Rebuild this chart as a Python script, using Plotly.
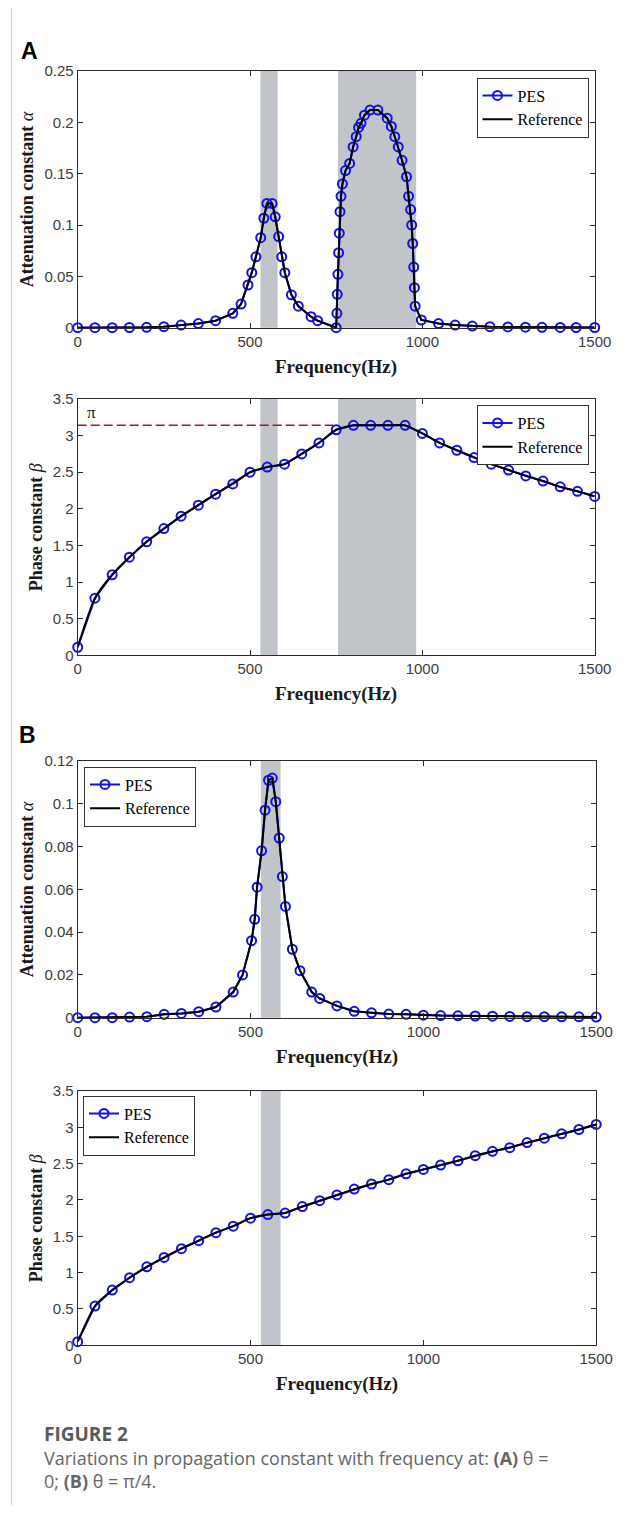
import math
import plotly.graph_objects as go

# ---------------- data ----------------
# Panel A (theta = 0): attenuation constant alpha
freq_A_alpha = [0, 50, 100, 150, 200, 250, 300, 350, 400, 450, 474, 494, 505, 517, 531, 540, 549,
                564, 573, 583, 592, 601, 620, 640, 677, 696, 750,
                752, 753, 755, 757, 759, 761, 764, 768, 777, 789, 799, 808, 815, 822, 832, 848, 871,
                898, 910, 920, 930, 941, 954, 960, 966, 969, 972, 975, 977, 979, 997,
                1047, 1095, 1145, 1196, 1248, 1299, 1347, 1400, 1446, 1500]
alpha_A = [0.0, 0.0, 0.0, 0.0002, 0.0004, 0.001, 0.0026, 0.004, 0.0068, 0.014, 0.023, 0.0416, 0.0536,
           0.069, 0.0877, 0.1066, 0.121,
           0.121, 0.108, 0.0887, 0.069, 0.0536, 0.032, 0.021, 0.0107, 0.0068, 0.0,
           0.014, 0.0325, 0.052, 0.073, 0.092, 0.113, 0.128, 0.14, 0.153, 0.16, 0.176, 0.186, 0.195,
           0.199, 0.207, 0.212, 0.212,
           0.204, 0.196, 0.186, 0.176, 0.163, 0.147, 0.128, 0.115, 0.1, 0.082, 0.059, 0.039, 0.021,
           0.0075, 0.004, 0.0026, 0.0016, 0.001, 0.0007, 0.0005, 0.0004, 0.0003, 0.0002, 0.0002]

# Panel A (theta = 0): phase constant beta
freq_A_beta = [0, 50, 100, 150, 200, 250, 300, 350, 400, 450, 500, 550, 600, 650, 700, 750, 800, 850,
               900, 950, 1000, 1050, 1100, 1150, 1200, 1250, 1300, 1350, 1400, 1450, 1500]
beta_A = [0.11, 0.78, 1.10, 1.34, 1.55, 1.73, 1.90, 2.05, 2.20, 2.34, 2.50, 2.57, 2.61, 2.75, 2.90,
          3.08, 3.14, 3.14, 3.14, 3.14, 3.03, 2.90, 2.80, 2.70, 2.61, 2.53, 2.45, 2.38, 2.30, 2.24, 2.17]

# Panel B (theta = pi/4): attenuation constant alpha
freq_B_alpha = [0, 50, 100, 150, 200, 250, 300, 350, 400, 450, 477, 503, 512, 519, 532, 542, 552, 563,
                573, 583, 592, 601, 621, 643, 677, 700, 750, 800, 850, 900, 950, 1000, 1050, 1100,
                1150, 1200, 1250, 1300, 1350, 1400, 1450, 1500]
alpha_B = [0.0, 0.0, 0.0, 0.0003, 0.0005, 0.0016, 0.002, 0.0028, 0.005, 0.012, 0.020, 0.036, 0.046,
           0.061, 0.078, 0.097, 0.111, 0.112, 0.101, 0.084, 0.066, 0.052, 0.032, 0.022, 0.012, 0.009,
           0.0055, 0.003, 0.0023, 0.0017, 0.0016, 0.0012, 0.001, 0.0009, 0.0008, 0.0007, 0.0006,
           0.0005, 0.0005, 0.0004, 0.0004, 0.0003]

# Panel B (theta = pi/4): phase constant beta
freq_B_beta = [0, 50, 100, 150, 200, 250, 300, 350, 400, 450, 500, 550, 600, 650, 700, 750, 800, 850,
               900, 950, 1000, 1050, 1100, 1150, 1200, 1250, 1300, 1350, 1400, 1450, 1500]
beta_B = [0.05, 0.54, 0.76, 0.93, 1.08, 1.21, 1.33, 1.44, 1.55, 1.64, 1.75, 1.80, 1.82, 1.91, 1.99,
          2.07, 2.15, 2.22, 2.28, 2.36, 2.42, 2.48, 2.54, 2.61, 2.67, 2.72, 2.79, 2.85, 2.91, 2.97, 3.04]

# band gaps (Hz)
bands_A = [(530, 580), (755, 982)]
bands_B = [(530, 587)]

# pi reference line (Hz range)
pi_line_x = [0, 755]
pi_line_y = [math.pi, math.pi]

x_ticks = [0, 500, 1000, 1500]

# ---------------- layout helpers ----------------
# the page body has an 8px margin, so the figure sits at (8, 8) in the window
OX, OY = 8, 8
W, H = 617, 1497


def px_x(p):
    return (p - OX) / W


def px_y(p):
    return 1 - (p - OY) / H


panels = [
    # (left, right, top, bottom) in window pixels
    (77.7, 594.7, 71, 327.7),
    (77.7, 594.7, 399, 655.3),
    (77.7, 596.2, 761, 1017.7),
    (77.7, 596.2, 1091, 1345.3),
]
y_ranges = [[0, 0.25], [0, 3.5], [0, 0.12], [0, 3.5]]
y_dticks = [0.05, 0.5, 0.02, 0.5]

BLUE = "#1010EE"
AXC = "#2a2a2a"
TICKFONT = dict(family="Liberation Sans, Arial", size=15, color="#3c3c3c")
SERIF = "Liberation Serif, Times New Roman"

fig = go.Figure()

series = [
    (freq_A_alpha, alpha_A, "linear"),
    (freq_A_beta, beta_A, "spline"),
    (freq_B_alpha, alpha_B, "linear"),
    (freq_B_beta, beta_B, "spline"),
]

for i, (fx, fy, shape) in enumerate(series):
    k = i + 1
    xa = "x" if k == 1 else f"x{k}"
    ya = "y" if k == 1 else f"y{k}"
    lg = "legend" if k == 1 else f"legend{k}"
    fig.add_trace(go.Scatter(
        x=fx, y=fy, mode="lines+markers", name="PES",
        line=dict(color=BLUE, width=2),
        marker=dict(symbol="circle-open", size=9, color=BLUE, line=dict(width=2, color=BLUE)),
        xaxis=xa, yaxis=ya, legend=lg, cliponaxis=False,
    ))
    if k == 2:
        fig.add_trace(go.Scatter(
            x=pi_line_x, y=pi_line_y, mode="lines", showlegend=False,
            line=dict(color="#A3162E", width=1.3, dash="9px,4px"),
            xaxis=xa, yaxis=ya,
        ))
    fig.add_trace(go.Scatter(
        x=fx, y=fy, mode="lines", name="Reference",
        line=dict(color="black", width=2, shape=shape, smoothing=0.6),
        xaxis=xa, yaxis=ya, legend=lg,
    ))

layout = dict(
    width=W, height=H,
    margin=dict(l=0, r=0, t=0, b=0, autoexpand=False),
    paper_bgcolor="white", plot_bgcolor="white",
    showlegend=True,
)

legend_pos = [(588.5, 77.5, "right"), (588.5, 405, "right"), (84, 766.5, "left"), (83, 1095.5, "left")]

shapes = []
annotations = []
for i, (l, r, t, b) in enumerate(panels):
    k = i + 1
    sfx = "" if k == 1 else str(k)
    anchor_x = "y" if k == 1 else f"y{k}"
    anchor_y = "x" if k == 1 else f"x{k}"
    layout[f"xaxis{sfx}"] = dict(
        domain=[px_x(l), px_x(r)], anchor=anchor_x, range=[0, 1500], automargin=False,
        tickvals=x_ticks, ticks="inside", ticklen=5, tickcolor=AXC,
        showline=True, linecolor=AXC, linewidth=1, mirror="ticks",
        showgrid=False, zeroline=False, tickfont=TICKFONT,
    )
    layout[f"yaxis{sfx}"] = dict(
        domain=[px_y(b), px_y(t)], anchor=anchor_y, range=y_ranges[i], automargin=False,
        dtick=y_dticks[i], tick0=0, ticks="inside", ticklen=5, tickcolor=AXC,
        showline=True, linecolor=AXC, linewidth=1, mirror="ticks",
        showgrid=False, zeroline=False, tickfont=TICKFONT,
    )
    lx, ly, xanc = legend_pos[i]
    layout["legend" if k == 1 else f"legend{k}"] = dict(
        x=px_x(lx), y=px_y(ly), xanchor=xanc, yanchor="top",
        xref="paper", yref="paper",
        bgcolor="white", bordercolor="#333", borderwidth=1,
        font=dict(family=SERIF, size=16, color="black"),
        itemwidth=30, tracegroupgap=0, traceorder="normal",
    )
    # band gaps
    bands = bands_A if k <= 2 else bands_B
    xr = "x" if k == 1 else f"x{k}"
    yr = ("y" if k == 1 else f"y{k}") + " domain"
    for (b0, b1) in bands:
        shapes.append(dict(type="rect", xref=xr, yref=yr, x0=b0, x1=b1, y0=0, y1=1,
                           fillcolor="#C1C4C8", line=dict(width=0), layer="below"))
    # axis titles
    annotations.append(dict(
        text="<b>Frequency(Hz)</b>", x=px_x((l + r) / 2), y=px_y(b + 39),
        xref="paper", yref="paper", xanchor="center", yanchor="middle", showarrow=False,
        font=dict(family=SERIF, size=19, color="#1a1a1a"),
    ))
    ytxt = "<b>Attenuation constant </b><i>α</i>" if k in (1, 3) else "<b>Phase constant </b><i>β</i>"
    ycx = 27 if k in (1, 3) else 36
    annotations.append(dict(
        text=ytxt, x=px_x(ycx), y=px_y((t + b) / 2), textangle=-90,
        xref="paper", yref="paper", xanchor="center", yanchor="middle", showarrow=False,
        font=dict(family=SERIF, size=18, color="#1a1a1a"),
    ))

# pi label
annotations.append(dict(text="π", x=41, y=3.32, xref="x2", yref="y2", showarrow=False,
                        font=dict(family=SERIF, size=17, color="#1a1a1a")))

# panel letters
annotations.append(dict(text="<b>A</b>", x=px_x(18.5), y=px_y(51), xref="paper", yref="paper",
                        xanchor="left", yanchor="middle", showarrow=False,
                        font=dict(family="Liberation Sans, Arial", size=23, color="black")))
annotations.append(dict(text="<b>B</b>", x=px_x(16.5), y=px_y(734.5), xref="paper", yref="paper",
                        xanchor="left", yanchor="middle", showarrow=False,
                        font=dict(family="Liberation Sans, Arial", size=23, color="black")))

# caption
CAPF = "Open Sans, Noto Sans"
annotations.append(dict(text="<b>FIGURE 2</b>", x=px_x(42), y=px_y(1434), xref="paper", yref="paper",
                        xanchor="left", yanchor="middle", showarrow=False,
                        font=dict(family=CAPF, size=19, color="#5a5a5a")))
annotations.append(dict(text="Variations in propagation constant with frequency at: <b>(A)</b> θ =",
                        x=px_x(42), y=px_y(1458), xref="paper", yref="paper",
                        xanchor="left", yanchor="middle", showarrow=False,
                        font=dict(family=CAPF, size=18, color="#666666")))
annotations.append(dict(text="0; <b>(B)</b> θ = π/4.",
                        x=px_x(42), y=px_y(1481), xref="paper", yref="paper",
                        xanchor="left", yanchor="middle", showarrow=False,
                        font=dict(family=CAPF, size=18, color="#666666")))

# outer border
shapes.append(dict(type="rect", xref="paper", yref="paper", x0=px_x(11.5), x1=px_x(622.5),
                   y0=px_y(1540), y1=px_y(5.5), line=dict(color="#cfcfcf", width=1),
                   fillcolor="rgba(0,0,0,0)", layer="below"))

layout["shapes"] = shapes
layout["annotations"] = annotations
fig.update_layout(**layout)

fig.write_html("out.html")
